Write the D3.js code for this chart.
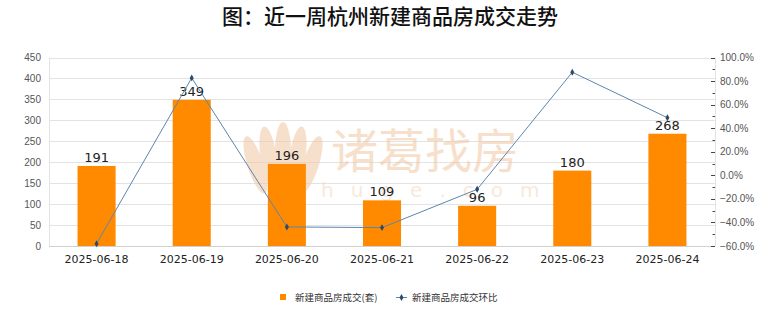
<!DOCTYPE html>
<html><head><meta charset="utf-8">
<script src="https://cdn.jsdelivr.net/npm/d3@7"></script>
<style>body{margin:0;background:#fff}svg{display:block}</style>
</head><body>
<svg id="c" width="780" height="328"></svg>
<script>
const categories = ["2025-06-18","2025-06-19","2025-06-20","2025-06-21","2025-06-22","2025-06-23","2025-06-24"];
const volumes = [191, 349, 196, 109, 96, 180, 268];
const changes = [-58.0, 82.7, -43.8, -44.4, -11.9, 87.5, 48.9];
const leftTicks = [0,50,100,150,200,250,300,350,400,450];
const rightTicks = [-60,-40,-20,0,20,40,60,80,100];
const title = "图：近一周杭州新建商品房成交走势";
const legendNames = ["新建商品房成交(套)", "新建商品房成交环比"];

const svg = d3.select("#c");
const L = 49, R = 715, T = 57.5, B = 246;
const x = d3.scaleBand().domain(categories).range([L, R]).paddingInner(0.6).paddingOuter(0.3);
const yL = d3.scaleLinear().domain([0, 450]).range([B, T]);
const yR = d3.scaleLinear().domain([-60, 100]).range([B, T]);

// title
svg.append("text").attr("x", 390).attr("y", 24).attr("text-anchor", "middle")
  .attr("font-family", "Noto Sans CJK SC").attr("font-size", 21).attr("font-weight", 500)
  .attr("fill", "#111").text(title);

// gridlines
svg.append("g").selectAll("line").data(leftTicks).join("line")
  .attr("x1", L).attr("x2", R).attr("y1", d => Math.round(yL(d)) + 0.5).attr("y2", d => Math.round(yL(d)) + 0.5)
  .attr("stroke", "#e3e3e3").attr("stroke-width", 1);
svg.append("line").attr("x1", L + 0.5).attr("x2", L + 0.5).attr("y1", T).attr("y2", B).attr("stroke", "#e3e3e3");
svg.append("line").attr("x1", R + 0.5).attr("x2", R + 0.5).attr("y1", T).attr("y2", B).attr("stroke", "#e3e3e3");
svg.append("line").attr("x1", L).attr("x2", R).attr("y1", B + 0.5).attr("y2", B + 0.5).attr("stroke", "#d0d0d0");

// watermark
const wm = svg.append("g").attr("opacity", 0.55);
const petals = [[-22, 12, -18], [-11, 4, -8], [0, 0, 0], [11, 4, 8], [22, 12, 18]];
petals.forEach(p => {
  wm.append("ellipse").attr("cx", 283 + p[0]).attr("cy", 152 + p[1]).attr("rx", 8).attr("ry", 30)
    .attr("transform", `rotate(${p[2]},${283 + p[0]},${182})`).attr("fill", "#f0c7a3");
});
wm.append("text").attr("x", 425).attr("y", 168).attr("text-anchor", "middle")
  .attr("font-family", "Noto Sans CJK SC").attr("font-size", 47).attr("fill", "#f0c7a3").text("诸葛找房");
wm.append("text").attr("x", 425).attr("y", 197).attr("text-anchor", "middle")
  .attr("font-family", "DejaVu Sans").attr("font-size", 20).attr("letter-spacing", 17).attr("fill", "#f3d6bd").text("zhuge.com");

// bars
svg.append("g").selectAll("rect").data(volumes).join("rect")
  .attr("x", (d, i) => x(categories[i])).attr("width", x.bandwidth())
  .attr("y", d => yL(d)).attr("height", d => B - yL(d)).attr("fill", "#ff8a00");

svg.append("g").selectAll("text").data(volumes).join("text")
  .attr("x", (d, i) => x(categories[i]) + x.bandwidth() / 2).attr("y", d => yL(d) - 4)
  .attr("text-anchor", "middle").attr("font-family", "DejaVu Sans").attr("font-size", 13).attr("fill", "#222")
  .text(d => d);

// line
const cx = i => x(categories[i]) + x.bandwidth() / 2;
svg.append("path").datum(changes)
  .attr("d", d3.line().x((d, i) => cx(i)).y(d => yR(d)))
  .attr("fill", "none").attr("stroke", "#5b86b0").attr("stroke-width", 1);
const diamond = d3.symbol().type(d3.symbolDiamond).size(14);
svg.append("g").selectAll("path").data(changes).join("path")
  .attr("d", diamond).attr("transform", (d, i) => `translate(${cx(i)},${yR(d)})`).attr("fill", "#2d4a66");

// left axis labels
svg.append("g").selectAll("text").data(leftTicks).join("text")
  .attr("x", 41).attr("y", d => yL(d) + 3.5).attr("text-anchor", "end")
  .attr("font-family", "Liberation Sans").attr("font-size", 10).attr("fill", "#555").text(d => d);

// right axis ticks
const minor = d3.range(-60, 101, 10);
svg.append("g").selectAll("line").data(minor).join("line")
  .attr("x1", d => d % 20 === 0 ? 711 : 712.5).attr("x2", 715)
  .attr("y1", d => Math.round(yR(d)) + 0.5).attr("y2", d => Math.round(yR(d)) + 0.5)
  .attr("stroke", "#444");
svg.append("g").selectAll("text").data(rightTicks).join("text")
  .attr("x", 720).attr("y", d => yR(d) + 3.5)
  .attr("font-family", "Liberation Sans").attr("font-size", 10).attr("fill", "#555")
  .text(d => d3.format(".1f")(d) + "%");

// x labels
svg.append("g").selectAll("text").data(categories).join("text")
  .attr("x", d => x(d) + x.bandwidth() / 2).attr("y", 263).attr("text-anchor", "middle")
  .attr("font-family", "DejaVu Sans").attr("font-size", 11).attr("fill", "#222").text(d => d);

// legend
const lg = svg.append("g");
lg.append("rect").attr("x", 280).attr("y", 294).attr("width", 6).attr("height", 6).attr("fill", "#ff8a00");
lg.append("text").attr("x", 295).attr("y", 301).attr("font-family", "Noto Sans CJK SC").attr("font-size", 9.5)
  .attr("fill", "#333").text(legendNames[0]);
lg.append("line").attr("x1", 396).attr("x2", 407).attr("y1", 297.5).attr("y2", 297.5).attr("stroke", "#5b86b0");
lg.append("path").attr("d", diamond).attr("transform", "translate(401.5,297.5)").attr("fill", "#2d4a66");
lg.append("text").attr("x", 412).attr("y", 301).attr("font-family", "Noto Sans CJK SC").attr("font-size", 9.5)
  .attr("fill", "#333").text(legendNames[1]);
</script>
</body></html>
